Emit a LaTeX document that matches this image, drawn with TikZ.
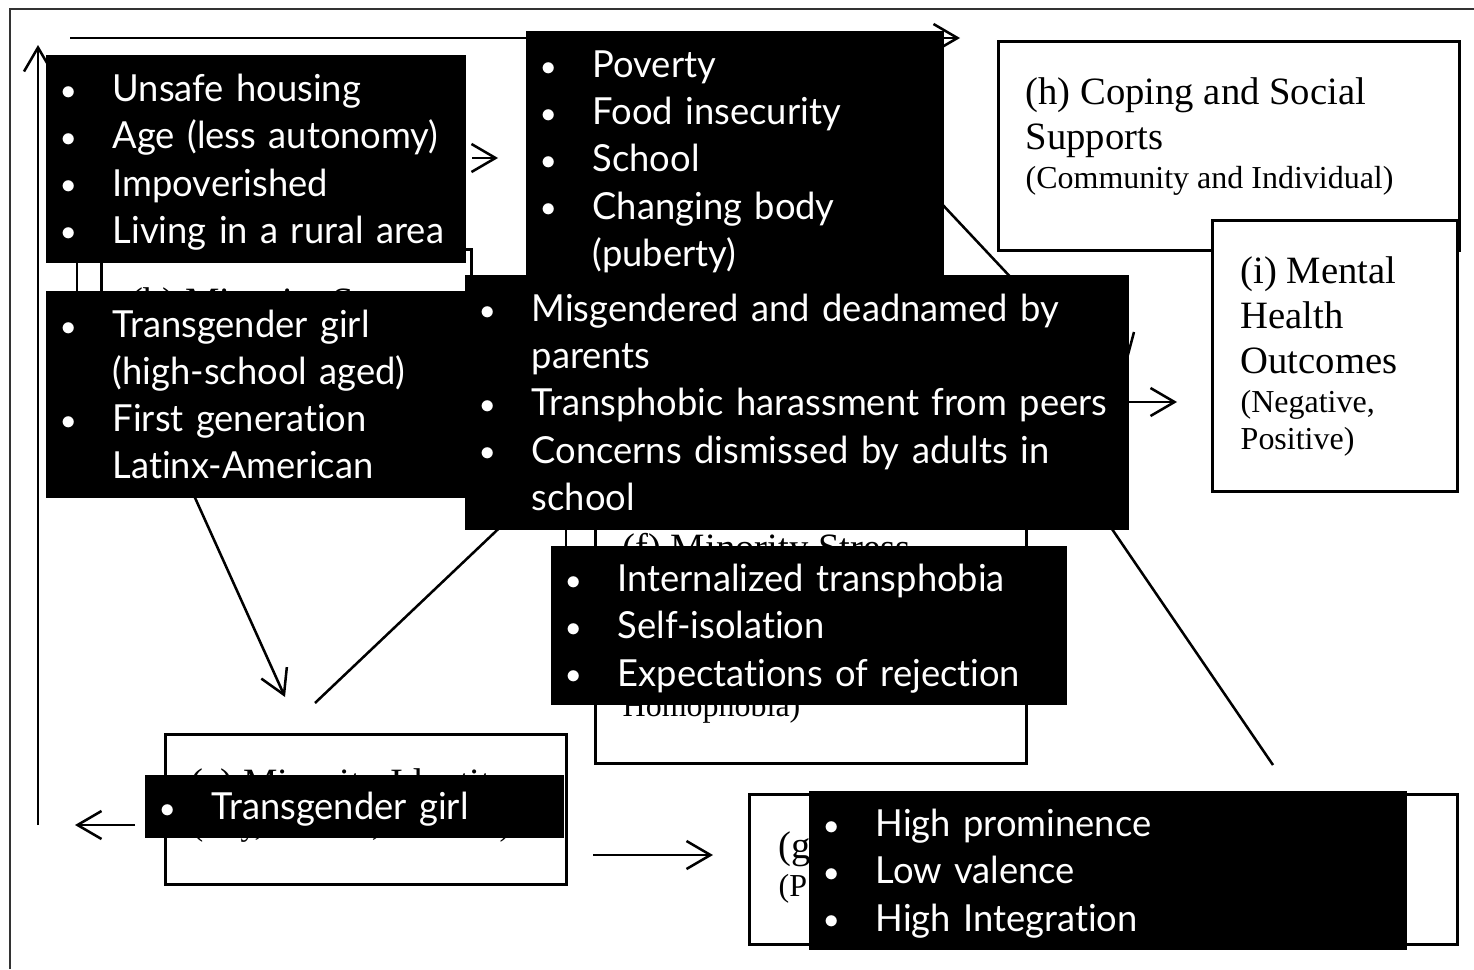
\documentclass[tikz,border=0pt]{standalone}
\usepackage{fontspec}
\usepackage{graphicx}
\setmainfont{Liberation Serif}
\newfontfamily\slidefont[FakeStretch=0.975, Ligatures=NoCommon]{Lato}
\usetikzlibrary{arrows.meta, positioning}

% one bullet line and its continuation
\newcommand{\strt}{\rule[-0.95mm]{0pt}{4.65mm}}
\newcommand{\dotmark}{\makebox[5.2mm][l]{\hspace{0.05mm}\raisebox{0.06em}{\scalebox{0.75}{$\bullet$}}}}
\newcommand{\itm}[1]{\mbox{\strt\dotmark#1}}
\newcommand{\cont}[1]{\mbox{\strt\hspace*{5.2mm}#1}}

\tikzset{
  boxframe/.style={draw, line width=0.85pt, inner sep=0pt, anchor=north west},
  blk/.style={fill=black, text=white, inner xsep=1.5mm, inner ysep=0pt,
    anchor=north west, align=left,
    font=\slidefont\fontsize{10.6}{13.4}\selectfont},
  ttl/.style={inner sep=0pt, anchor=north west, align=left,
    font=\fontsize{11}{12.8}\selectfont},
  subttl/.style={inner sep=0pt, anchor=north west, align=left,
    font=\fontsize{9.1}{10.5}\selectfont},
  conn/.style={line width=0.72pt},
  arr/.style={conn, -{Straight Barb[length=2.4mm, width=2.8mm]}},
}

\begin{document}
\begin{tikzpicture}[x=0.1mm, y=-0.1mm]
  \useasboundingbox (0,0) rectangle (1474,969);
  \draw[line width=0.6pt, black!80] (10,969) -- (10,9) -- (1474,9);

  % model boxes
  \node[boxframe, minimum width=46.1mm, minimum height=20.9mm] (hbox) at (997,40) {};
  \node[boxframe, minimum width=24.5mm, minimum height=27.1mm, fill=white] (ibox) at (1211,219) {};
  \node[boxframe, minimum width=70.8mm, minimum height=15.0mm] (gbox) at (748,793) {};
  \node[boxframe, minimum width=40.1mm, minimum height=15.0mm] (ebox) at (164,733) {};
  \node[boxframe, minimum width=43.1mm, minimum height=24.7mm] (fbox) at (594,515) {};
  \node[boxframe, minimum width=37.0mm, minimum height=23.2mm] (bbox) at (100,248) {};
  \draw[conn] (77,200) -- (77,400);
  \draw[conn] (566,515) -- (566,600);

  \node[ttl] (htitle) at (1025,77) {(h) Coping and Social\\Supports};
  \node[subttl] (hsub) at (1025,166) {(Community and Individual)};
  \node[ttl] (ititle) at (1240,256) {(i) Mental\\Health\\Outcomes};
  \node[subttl] (isub) at (1240,390) {(Negative,\\Positive)};
  \node[ttl] (gtitle) at (778,831) {(g};
  \node[subttl] (gsub) at (778,874) {(P};
  \node[ttl] (etitle) at (190,768) {(e) Minority Identity};
  \node[subttl] (esub) at (192,813) {(Gay, Lesbian, Bisexual)};
  \node[ttl] (btitle) at (130,287) {(b) Minority Status};
  \node[ttl] (ftitle) at (622,533) {(f) Minority Stress};
  \node[subttl] (fsub) at (622,694) {Homophobia)};

  % connectors
  \coordinate (topL) at (70,38);
  \coordinate (topR) at (960,38);
  \coordinate (upB) at (38,825);
  \coordinate (upT) at (38,45);
  \coordinate (smL) at (472,158);
  \coordinate (smR) at (498,158);
  \coordinate (b2e) at (187,480);
  \coordinate (b2eT) at (285,697);
  \coordinate (e2d) at (315,703);
  \coordinate (e2dT) at (513,515);
  \coordinate (c2d) at (925,186);
  \coordinate (c2dT) at (1032,300);
  \coordinate (tipA) at (1126,362);
  \coordinate (tipB) at (1134,332);
  \coordinate (d2i) at (1120,402);
  \coordinate (d2iT) at (1177,402);
  \coordinate (g2d) at (1099,510);
  \coordinate (g2dT) at (1273,765);
  \coordinate (eL) at (135,825);
  \coordinate (eLT) at (75,825);
  \coordinate (e2g) at (593,855);
  \coordinate (e2gT) at (713,855);

  \draw[arr] (topL) -- (topR);
  \draw[arr] (upB) -- (upT);
  \draw[arr] (smL) -- (smR);
  \draw[arr] (b2e) -- (b2eT);
  \draw[conn] (e2d) -- (e2dT);
  \draw[conn] (c2d) -- (c2dT);
  \draw[conn] (tipA) -- (tipB);
  \draw[arr] (d2i) -- (d2iT);
  \draw[conn] (g2d) -- (g2dT);
  \draw[arr] (eL) -- (eLT);
  \draw[arr] (e2g) -- (e2gT);

  % black overlays
  \node[blk, text width=39.0mm, minimum height=20.8mm] (risk) at (45,54)
    {\itm{Unsafe housing}\\\itm{Age (less autonomy)}\\\itm{Impoverished}\\\itm{Living in a rural area}};
  \node[blk, text width=38.8mm, minimum height=25.5mm] (stress) at (525,30)
    {\itm{Poverty}\\\itm{Food insecurity}\\\itm{School}\\\itm{Changing body}\\\cont{(puberty)}};
  \node[blk, text width=38.9mm, minimum height=20.7mm] (status) at (45,290)
    {\itm{Transgender girl}\\\cont{(high-school aged)}\\\itm{First generation}\\\cont{Latinx-American}};
  \node[blk, text width=63.4mm, minimum height=25.5mm] (distal) at (464,274)
    {\itm{Misgendered and deadnamed by}\\\cont{parents}\\\itm{Transphobic harassment from peers}\\\itm{Concerns dismissed by adults in}\\\cont{school}};
  \node[blk, text width=48.6mm, minimum height=15.9mm] (proximal) at (550,545)
    {\itm{Internalized transphobia}\\\itm{Self-isolation}\\\itm{Expectations of rejection}};
  \node[blk, text width=38.9mm, minimum height=6.3mm] (identity) at (144,774)
    {\itm{Transgender girl}};
  \node[blk, text width=56.8mm, minimum height=15.9mm] (traits) at (808,790)
    {\itm{High prominence}\\\itm{Low valence}\\\itm{High Integration}};
\end{tikzpicture}
\end{document}
